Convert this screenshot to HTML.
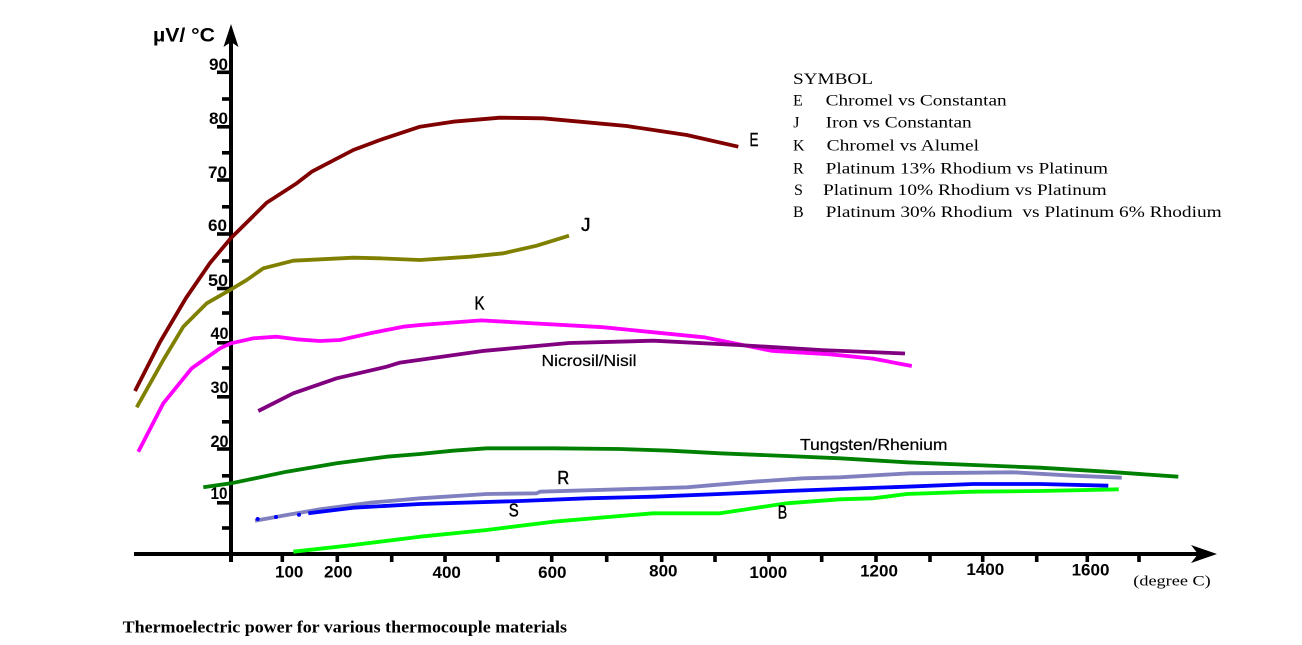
<!DOCTYPE html>
<html><head><meta charset="utf-8"><style>
html,body{margin:0;padding:0;background:#fff;}
svg{display:block;}
.t{font-family:"Liberation Sans",Arial,sans-serif;font-weight:bold;font-size:17px;fill:#000;}
.l{font-family:"Liberation Sans",Arial,sans-serif;font-size:18px;fill:#000;stroke:#000;stroke-width:0.4;}
.s{font-family:"Liberation Serif","Times New Roman",serif;font-size:16px;fill:#000;}
.c{fill:none;stroke-width:3.8;stroke-linejoin:round;stroke-linecap:butt;}
</style></head><body>
<svg width="1302" height="645" viewBox="0 0 1302 645" xmlns="http://www.w3.org/2000/svg">
<rect width="1302" height="645" fill="#fff"/>

<!-- axes -->
<rect x="229" y="40" width="4" height="522" fill="#000"/>
<polygon points="231,24 223.5,47 231,42 238.5,47" fill="#000"/>
<rect x="134" y="552" width="1066" height="4" fill="#000"/>
<polygon points="1217,554 1191,545 1198,554 1191,563" fill="#000"/>

<!-- y ticks -->
<g fill="#000">
<rect x="217" y="70.5" width="14" height="3.6"/>
<rect x="217" y="125" width="14" height="3.6"/>
<rect x="217" y="178.2" width="14" height="3.6"/>
<rect x="217" y="232.2" width="14" height="3.6"/>
<rect x="217" y="286.7" width="14" height="3.6"/>
<rect x="217" y="341" width="14" height="3.6"/>
<rect x="217" y="395" width="14" height="3.6"/>
<rect x="217" y="447.2" width="14" height="3.6"/>
<rect x="217" y="501" width="14" height="3.6"/>
<rect x="222" y="97.2" width="9" height="3.6"/>
<rect x="222" y="151" width="9" height="3.6"/>
<rect x="222" y="205" width="9" height="3.6"/>
<rect x="222" y="259.2" width="9" height="3.6"/>
<rect x="222" y="311.2" width="9" height="3.6"/>
<rect x="222" y="366.2" width="9" height="3.6"/>
<rect x="222" y="420" width="9" height="3.6"/>
<rect x="222" y="474" width="9" height="3.6"/>
<rect x="222" y="526.2" width="9" height="3.6"/>
</g>

<!-- x ticks -->
<g fill="#000">
<rect x="280.5" y="554" width="3.6" height="8"/>
<rect x="335.5" y="554" width="3.6" height="8"/>
<rect x="389.9" y="554" width="3.6" height="8"/>
<rect x="443.2" y="554" width="3.6" height="8"/>
<rect x="495.9" y="554" width="3.6" height="8"/>
<rect x="549.9" y="554" width="3.6" height="8"/>
<rect x="604.9" y="554" width="3.6" height="8"/>
<rect x="659.9" y="554" width="3.6" height="8"/>
<rect x="713.2" y="554" width="3.6" height="8"/>
<rect x="767.2" y="554" width="3.6" height="8"/>
<rect x="819.9" y="554" width="3.6" height="8"/>
<rect x="874.2" y="554" width="3.6" height="8"/>
<rect x="928.2" y="554" width="3.6" height="8"/>
<rect x="980.9" y="554" width="3.6" height="8"/>
<rect x="1034.9" y="554" width="3.6" height="8"/>
<rect x="1085.5" y="554" width="3.6" height="8"/>
<rect x="1137.2" y="554" width="3.6" height="8"/>
</g>

<!-- y labels -->
<g class="t" text-anchor="end">
<text x="228" y="70" textLength="19" lengthAdjust="spacingAndGlyphs">90</text>
<text x="228" y="124" textLength="19" lengthAdjust="spacingAndGlyphs">80</text>
<text x="227" y="178" textLength="19" lengthAdjust="spacingAndGlyphs">70</text>
<text x="227" y="231" textLength="19" lengthAdjust="spacingAndGlyphs">60</text>
<text x="228" y="286" textLength="20" lengthAdjust="spacingAndGlyphs">50</text>
<text x="228.5" y="339" textLength="18" lengthAdjust="spacingAndGlyphs">40</text>
<text x="228.5" y="393" textLength="18" lengthAdjust="spacingAndGlyphs">30</text>
<text x="228.5" y="447" textLength="18" lengthAdjust="spacingAndGlyphs">20</text>
<text x="227.5" y="499" textLength="17" lengthAdjust="spacingAndGlyphs">10</text>
</g>
<text class="t" x="153" y="41.7" style="font-size:19px" textLength="62" lengthAdjust="spacingAndGlyphs">µV/ °C</text>

<!-- x labels -->
<g class="t" text-anchor="middle">
<text x="289.2" y="577.7">100</text>
<text x="338.2" y="577.7">200</text>
<text x="446.7" y="578">400</text>
<text x="552.3" y="578">600</text>
<text x="663.3" y="576.7">800</text>
<text x="768.3" y="578">1000</text>
<text x="879" y="576.7">1200</text>
<text x="985.3" y="575">1400</text>
<text x="1090.5" y="575.7">1600</text>
</g>
<text class="s" x="1133.3" y="585.5" style="font-size:15px" textLength="77.4" lengthAdjust="spacingAndGlyphs">(degree C)</text>

<!-- curves -->
<polyline class="c" stroke="#800000" points="135,391 160,342 186,298 210,263 231,238 266.7,202.7 296.7,183.3 311.7,171.7 353.3,150 380,140 420,126.7 453,121.7 500,117.7 543,118.3 586.7,122.3 626.7,126 686.7,135 738.3,146.7"/>
<polyline class="c" stroke="#808000" points="136.7,407.3 163.3,360 183.3,326.7 206.7,303.3 230,290 246.7,280 263.3,268.3 293.3,260.7 353.3,257.7 380,258.3 420,260 470,256.7 503.3,253.3 536.7,245.7 569,235.7"/>
<polyline class="c" stroke="#ff00ff" points="138.3,451.7 163.3,403.3 191.7,368.3 220,348.3 231,343.3 253.3,338.3 276.7,336.7 296.7,339.3 320,341 340,340 370,333.3 403.3,326.7 420,325 481,320.4 511.5,322.1 602.7,327.2 704,337.3 771.6,350.8 829,354.2 873,358.6 911.8,366"/>
<polyline class="c" stroke="#800080" points="258.3,411 293.3,393.3 336.7,378.3 386.7,366.7 400,362.6 484.5,350.8 569,343 653.4,340.7 737.8,345 822.3,350.1 905,353.5"/>
<polyline class="c" stroke="#008000" points="203.3,487.3 231,483.3 286.7,471.7 336.7,463.3 386.7,456.7 420,454 453,450.7 486.7,448.3 553.3,448.3 620,449 670,450.7 720,453.3 786.7,456 840,458.3 906.7,462.3 973.3,465 1040,467.7 1106.7,471.7 1178.3,476.7"/>
<polyline class="c" stroke="#8080c0" points="255,520.7 286.7,515 320,509.3 370,502.7 420,498.3 486.7,494 536.7,493.3 540,491.7 620,489.3 686.7,487.3 753.3,481.7 803.3,478.3 840,477.3 910,473.3 1013.3,472.3 1073.3,475.7 1121.7,477.7"/>
<polyline class="c" stroke="#0000ff" points="308.3,513.3 353.3,507.7 420,504 520,501 586.7,498.3 653.3,496.7 720,494 786.7,491 840,489 906.7,486.7 973.3,484 1040,484 1108.3,485.7"/>
<g fill="#0000ff">
<circle cx="257.7" cy="519" r="2"/>
<circle cx="276" cy="517" r="2"/>
<circle cx="299" cy="514.7" r="2"/>
</g>
<polyline class="c" stroke="#00ff00" points="293.3,551.7 353.3,545 420,536.7 486.7,530 553.3,521.7 620,516 653.3,513.3 720,513.3 753.3,508.3 786.7,503.3 840,499.3 873.3,498.3 906.7,494 973.3,491.7 1040,491 1118.7,489.3"/>

<!-- curve labels -->
<g class="l">
<text x="749.5" y="146" textLength="9" lengthAdjust="spacingAndGlyphs">E</text>
<text x="581" y="231" textLength="9.5" lengthAdjust="spacingAndGlyphs">J</text>
<text x="474.5" y="309.6" textLength="10" lengthAdjust="spacingAndGlyphs">K</text>
<text x="557.2" y="484" textLength="12" lengthAdjust="spacingAndGlyphs">R</text>
<text x="508.8" y="516.7" textLength="10" lengthAdjust="spacingAndGlyphs">S</text>
<text x="777.8" y="518.3" textLength="9.5" lengthAdjust="spacingAndGlyphs">B</text>
</g>
<g class="l" style="font-size:15.5px;stroke-width:0.2">
<text x="541.5" y="366" textLength="95" lengthAdjust="spacingAndGlyphs">Nicrosil/Nisil</text>
<text x="800" y="450" textLength="147.5" lengthAdjust="spacingAndGlyphs">Tungsten/Rhenium</text>
</g>

<!-- legend -->
<g class="s">
<text x="793" y="84" textLength="80" lengthAdjust="spacingAndGlyphs">SYMBOL</text>
<text x="793" y="105.7">E</text>
<text x="825.7" y="105.7" textLength="181" lengthAdjust="spacingAndGlyphs">Chromel vs Constantan</text>
<text x="793.3" y="127.7">J</text>
<text x="825.7" y="127.7" textLength="146" lengthAdjust="spacingAndGlyphs">Iron vs Constantan</text>
<text x="793" y="150.7">K</text>
<text x="826.7" y="150.7" textLength="152.3" lengthAdjust="spacingAndGlyphs">Chromel vs Alumel</text>
<text x="793" y="173.3">R</text>
<text x="825.7" y="173.3" textLength="282.3" lengthAdjust="spacingAndGlyphs">Platinum 13% Rhodium vs Platinum</text>
<text x="794" y="195">S</text>
<text x="823" y="195" textLength="283.7" lengthAdjust="spacingAndGlyphs">Platinum 10% Rhodium vs Platinum</text>
<text x="793" y="217">B</text>
<text x="825.7" y="217" textLength="396" lengthAdjust="spacingAndGlyphs" xml:space="preserve">Platinum 30% Rhodium  vs Platinum 6% Rhodium</text>
</g>

<!-- caption -->
<text x="122.7" y="632.3" style="font-family:'Liberation Serif','Times New Roman',serif;font-weight:bold;font-size:17px" textLength="444.3" lengthAdjust="spacingAndGlyphs">Thermoelectric power for various thermocouple materials</text>
</svg>
</body></html>
